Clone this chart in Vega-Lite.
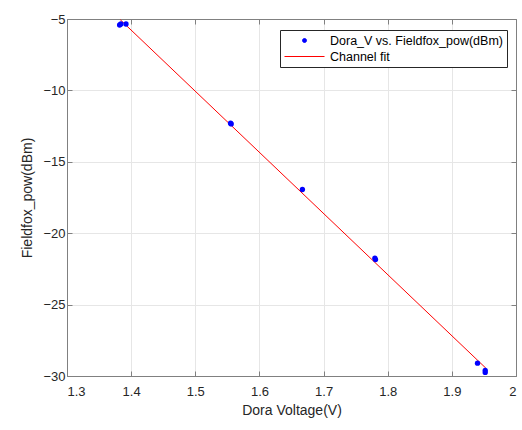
{
  "$schema": "https://vega.github.io/schema/vega-lite/v6.json",
  "autosize": "none",
  "width": 449,
  "height": 357,
  "padding": {"left": 67, "top": 19, "right": 6, "bottom": 54},
  "background": "white",
  "config": {
    "font": "Liberation Sans",
    "view": {"stroke": "#808080", "strokeWidth": 1},
    "axis": {
      "labelFont": "Liberation Sans",
      "titleFont": "Liberation Sans",
      "labelFontSize": 13,
      "titleFontSize": 14,
      "labelColor": "#262626",
      "titleColor": "#262626",
      "titleFontWeight": "normal",
      "domainColor": "#808080",
      "tickColor": "#808080",
      "gridColor": "#e6e6e6",
      "tickSize": -5
    }
  },
  "datasets": {
    "pts": [
      {"v": 1.382, "p": -5.42, "series": "Dora_V vs. Fieldfox_pow(dBm)"},
      {"v": 1.384, "p": -5.35, "series": "Dora_V vs. Fieldfox_pow(dBm)"},
      {"v": 1.392, "p": -5.35, "series": "Dora_V vs. Fieldfox_pow(dBm)"},
      {"v": 1.555, "p": -12.3, "series": "Dora_V vs. Fieldfox_pow(dBm)"},
      {"v": 1.556, "p": -12.35, "series": "Dora_V vs. Fieldfox_pow(dBm)"},
      {"v": 1.667, "p": -16.94, "series": "Dora_V vs. Fieldfox_pow(dBm)"},
      {"v": 1.78, "p": -21.75, "series": "Dora_V vs. Fieldfox_pow(dBm)"},
      {"v": 1.781, "p": -21.85, "series": "Dora_V vs. Fieldfox_pow(dBm)"},
      {"v": 1.94, "p": -29.1, "series": "Dora_V vs. Fieldfox_pow(dBm)"},
      {"v": 1.952, "p": -29.6, "series": "Dora_V vs. Fieldfox_pow(dBm)"},
      {"v": 1.952, "p": -29.75, "series": "Dora_V vs. Fieldfox_pow(dBm)"}
    ],
    "fit": [
      {"v": 1.383, "p": -5.05, "series": "Channel fit"},
      {"v": 1.953, "p": -29.45, "series": "Channel fit"}
    ]
  },
  "layer": [
    {
      "data": {"name": "fit"},
      "mark": {"type": "line", "strokeWidth": 1, "clip": true},
      "encoding": {
        "x": {"field": "v", "type": "quantitative",
              "scale": {"domain": [1.3, 2], "nice": false, "zero": false},
              "axis": {"title": "Dora Voltage(V)", "values": [1.3,1.4,1.5,1.6,1.7,1.8,1.9,2], "format": ".1~f", "grid": true, "orient": "bottom", "labelPadding": 14, "titlePadding": 5}},
        "y": {"field": "p", "type": "quantitative",
              "scale": {"domain": [-30, -5], "nice": false, "zero": false},
              "axis": {"title": "Fieldfox_pow(dBm)", "values": [-30,-25,-20,-15,-10,-5], "grid": true, "orient": "left", "labelPadding": 7, "titlePadding": 8}},
        "color": {"field": "series", "type": "nominal",
                  "scale": {"domain": ["Dora_V vs. Fieldfox_pow(dBm)", "Channel fit"], "range": ["#0000ff", "#ff0000"]},
                  "legend": {
                    "title": null,
                    "orient": "none",
                    "legendX": 213,
                    "legendY": 11,
                    "fillColor": "white",
                    "strokeColor": "#262626",
                    "padding": 4,
                    "labelFont": "Liberation Sans",
                    "labelFontSize": 12.5,
                    "labelColor": "#000000",
                    "labelLimit": 0,
                    "labelOffset": 33,
                    "symbolSize": 144,
                    "symbolType": "stroke",
                    "symbolStrokeWidth": 1,
                    "rowPadding": 3,
                    "encode": {
                      "symbols": {
                        "update": {
                          "shape": {"signal": "datum.value === 'Channel fit' ? 'M-1,0H5.67' : 'M2,0A0.33,0.33 0 1,1 2.67,0A0.33,0.33 0 1,1 2,0Z'"},
                          "size": {"value": 144},
                          "fill": {"signal": "datum.value === 'Channel fit' ? 'transparent' : '#0000ff'"},
                          "stroke": {"signal": "datum.value === 'Channel fit' ? '#ff0000' : 'transparent'"}
                        }
                      }
                    }
                  }}
      }
    },
    {
      "data": {"name": "pts"},
      "mark": {"type": "point", "filled": true, "size": 28, "opacity": 1},
      "encoding": {
        "x": {"field": "v", "type": "quantitative",
              "axis": {"title": null, "labels": false, "values": [1.3,1.4,1.5,1.6,1.7,1.8,1.9,2], "grid": false, "orient": "top"}},
        "y": {"field": "p", "type": "quantitative",
              "axis": {"title": null, "labels": false, "values": [-30,-25,-20,-15,-10,-5], "grid": false, "orient": "right"}},
        "color": {"field": "series", "type": "nominal"}
      }
    }
  ],
  "resolve": {"axis": {"x": "independent", "y": "independent"}}
}
